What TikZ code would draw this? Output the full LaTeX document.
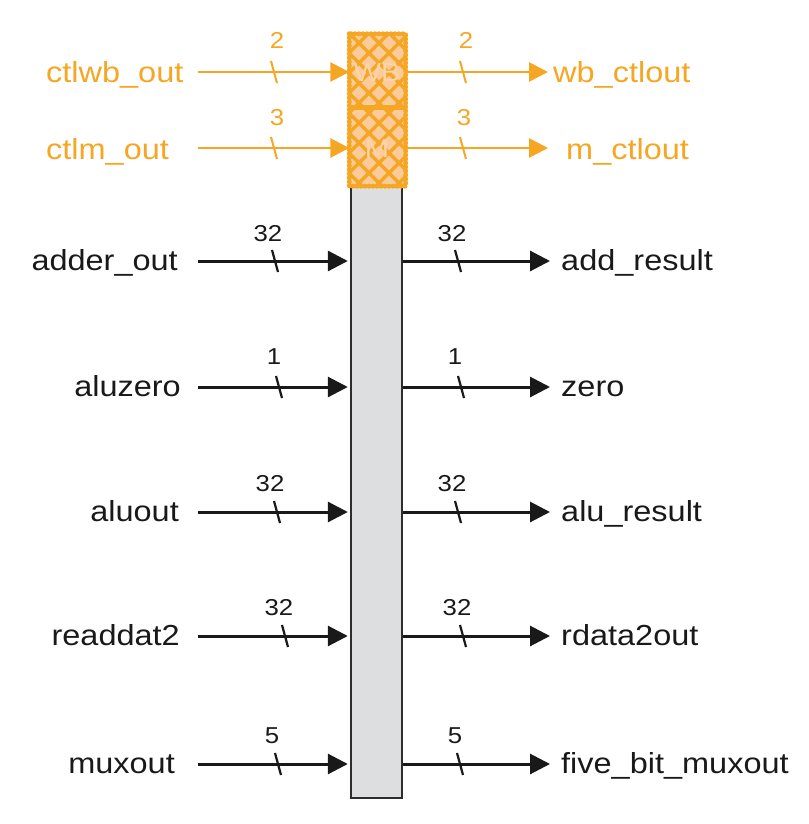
\documentclass[tikz,border=0pt]{standalone}
\usepackage{fontspec}
\setmainfont{Liberation Sans}[FakeStretch=1.12]
\usetikzlibrary{arrows.meta}
\definecolor{orng}{RGB}{245,166,35}
\definecolor{orlt}{RGB}{252,203,155}
\definecolor{orwb}{RGB}{253,212,170}
\definecolor{regfill}{RGB}{221,222,224}
\definecolor{regline}{RGB}{45,45,45}
\definecolor{ink}{RGB}{25,25,25}
\begin{document}
\begin{tikzpicture}[x=1pt,y=-1pt,
  lab/.style={font=\fontsize{29}{31}\selectfont, inner sep=0pt, text=ink},
  olab/.style={lab, text=orng},
  num/.style={font=\fontsize{23}{25}\selectfont, inner sep=0pt, anchor=base, text=ink},
  onum/.style={num, text=orng},
  barr/.style={ink, line width=3pt, -{Triangle[length=20pt,width=20pt]}},
  oarr/.style={orng, line width=2.8pt, -{Triangle[length=19pt,width=19pt]}},
  bslash/.style={ink, line width=2.2pt},
  oslash/.style={orng, line width=2pt},
]
\useasboundingbox (0,0) rectangle (808,824);

% register body
\node[draw=regline, fill=regfill, line width=1.4pt, minimum width=51pt,
      minimum height=612pt, inner sep=0pt] (reg) at (376.5,492) {};

% control part (orange, cross-hatched)
\node[minimum width=56pt, minimum height=152pt, inner sep=0pt] (ctl) at (377.5,110) {};
\fill[orlt] (ctl.north west) rectangle (ctl.south east);
\begin{scope}
  \clip (ctl.north west) rectangle (ctl.south east);
  \foreach \k in {-10,...,6} \draw[orng, line width=3.2pt] (349+20*\k,33) -- ++(180,180);
  \foreach \k in {0,...,16} \draw[orng, line width=3.2pt] (349+20*\k,33) -- ++(-180,180);
\end{scope}
\draw[orng, line width=3pt, rounded corners=2pt] (ctl.north west) rectangle (ctl.south east);
\draw[orng, line width=5pt, line cap=round, dash pattern=on 0pt off 4pt]
  (ctl.north west) rectangle (ctl.south east);
\coordinate (dv) at (0,108);
\draw[orng, line width=5pt] (ctl.west |- dv) -- (ctl.east |- dv);
\node[font=\fontsize{26}{28}\selectfont, text=orwb, inner sep=0pt] (wb) at (377,73) {WB};
\node[font=\fontsize{26}{28}\selectfont, text=orwb, inner sep=0pt] (m) at (377,149) {M};

% ---- row 1 : ctlwb_out -> wb_ctlout
\node[olab, anchor=base west] (l1) at (46,83) {ctlwb\_out};
\coordinate (a1) at (198,72);
\coordinate (b1) at (548,72);
\draw[oarr] (a1) -- (a1 -| ctl.west);
\draw[oarr] (ctl.east |- a1) -- (b1);
\draw[oslash] (274,72) ++(-3,-11) -- ++(6,22);
\draw[oslash] (463,72) ++(-3,-11) -- ++(6,22);
\node[onum] (n1l) at (277,49) {2};
\node[onum] (n1r) at (466,49) {2};
\node[olab, anchor=base west] (r1) at (553,83) {wb\_ctlout};

% ---- row 2 : ctlm_out -> m_ctlout
\node[olab, anchor=base west] (l2) at (46,159) {ctlm\_out};
\coordinate (a2) at (198,148);
\coordinate (b2) at (548,148);
\draw[oarr] (a2) -- (a2 -| ctl.west);
\draw[oarr] (ctl.east |- a2) -- (b2);
\draw[oslash] (274,148) ++(-3,-11) -- ++(6,22);
\draw[oslash] (463,148) ++(-3,-11) -- ++(6,22);
\node[onum] (n2l) at (277,125) {3};
\node[onum] (n2r) at (464,125) {3};
\node[olab, anchor=base west] (r2) at (566,159) {m\_ctlout};

% ---- row 3 : adder_out -> add_result
\node[lab, anchor=base east] (l3) at (178,270) {adder\_out};
\coordinate (a3) at (198,261);
\coordinate (b3) at (550,261);
\draw[barr, shorten >=2.5pt] (a3) -- (a3 -| reg.west);
\draw[barr] (reg.east |- a3) -- (b3);
\draw[bslash] (275,261) ++(-3,-11) -- ++(6,22);
\draw[bslash] (458,261) ++(-3,-11) -- ++(6,22);
\node[num] (n3l) at (268,241) {32};
\node[num] (n3r) at (452,241) {32};
\node[lab, anchor=base west] (r3) at (561,270) {add\_result};

% ---- row 4 : aluzero -> zero
\node[lab, anchor=base east] (l4) at (181,396) {aluzero};
\coordinate (a4) at (198,387);
\coordinate (b4) at (550,387);
\draw[barr, shorten >=2.5pt] (a4) -- (a4 -| reg.west);
\draw[barr] (reg.east |- a4) -- (b4);
\draw[bslash] (279,387) ++(-3,-11) -- ++(6,22);
\draw[bslash] (461,387) ++(-3,-11) -- ++(6,22);
\node[num] (n4l) at (274,364) {1};
\node[num] (n4r) at (455,364) {1};
\node[lab, anchor=base west] (r4) at (561,396) {zero};

% ---- row 5 : aluout -> alu_result
\node[lab, anchor=base east] (l5) at (179,521) {aluout};
\coordinate (a5) at (198,512);
\coordinate (b5) at (550,512);
\draw[barr, shorten >=2.5pt] (a5) -- (a5 -| reg.west);
\draw[barr] (reg.east |- a5) -- (b5);
\draw[bslash] (277,512) ++(-3,-11) -- ++(6,22);
\draw[bslash] (458,512) ++(-3,-11) -- ++(6,22);
\node[num] (n5l) at (270,491) {32};
\node[num] (n5r) at (452,491) {32};
\node[lab, anchor=base west] (r5) at (561,521) {alu\_result};

% ---- row 6 : readdat2 -> rdata2out
\node[lab, anchor=base east] (l6) at (180,645) {readdat2};
\coordinate (a6) at (198,636);
\coordinate (b6) at (550,636);
\draw[barr, shorten >=2.5pt] (a6) -- (a6 -| reg.west);
\draw[barr] (reg.east |- a6) -- (b6);
\draw[bslash] (285,636) ++(-3,-11) -- ++(6,22);
\draw[bslash] (463,636) ++(-3,-11) -- ++(6,22);
\node[num] (n6l) at (279,615) {32};
\node[num] (n6r) at (457,615) {32};
\node[lab, anchor=base west] (r6) at (561,645) {rdata2out};

% ---- row 7 : muxout -> five_bit_muxout
\node[lab, anchor=base east] (l7) at (175,773) {muxout};
\coordinate (a7) at (198,764);
\coordinate (b7) at (550,764);
\draw[barr, shorten >=2.5pt] (a7) -- (a7 -| reg.west);
\draw[barr] (reg.east |- a7) -- (b7);
\draw[bslash] (278,764) ++(-3,-11) -- ++(6,22);
\draw[bslash] (460,764) ++(-3,-11) -- ++(6,22);
\node[num] (n7l) at (272,743) {5};
\node[num] (n7r) at (455,743) {5};
\node[lab, anchor=base west] (r7) at (561,773) {five\_bit\_muxout};
\end{tikzpicture}
\end{document}
